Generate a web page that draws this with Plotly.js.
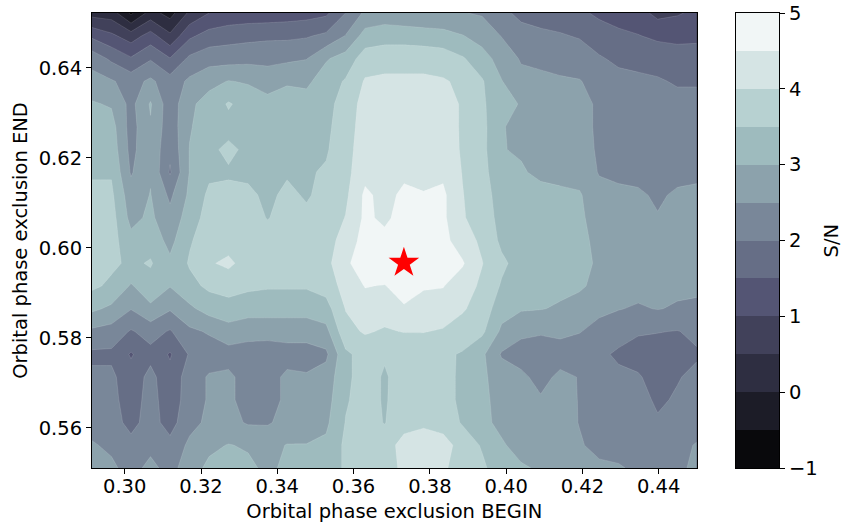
<!DOCTYPE html>
<html>
<head>
<meta charset="utf-8">
<script src="https://cdn.plot.ly/plotly-3.0.1.min.js"></script>
<style>html,body{margin:0;padding:0;background:#fff;}#chart{width:844px;height:528px;}</style>
</head>
<body>
<div id="chart"></div>
<script>
// Orbital phase exclusion BEGIN (x grid) and END (y grid)
const phaseBegin = [0.29142,0.29653,0.30165,0.30676,0.31188,0.31699,0.32211,0.32722,0.33234,0.33745,0.34257,0.34768,0.35279,0.35791,0.36302,0.36814,0.37325,0.37837,0.38348,0.38860,0.39371,0.39882,0.40394,0.40905,0.41417,0.41928,0.42440,0.42951,0.43463,0.43974,0.44486,0.44997];
const phaseEndTopDown = [0.65222,0.64716,0.64211,0.63705,0.63200,0.62694,0.62189,0.61683,0.61178,0.60672,0.60166,0.59661,0.59155,0.58650,0.58144,0.57639,0.57133,0.56628,0.56122,0.55617,0.55111];
// S/N values, rows from top (largest END) to bottom
const snTopDown = [
[0.3,0.25,-0.6,0.2,-0.2,0.6,1.0,1.15,1.2,1.2,1.25,1.3,1.4,2.0,2.6,2.7,2.6,2.55,2.52,2.52,2.45,2.1,1.9,1.8,1.7,1.6,1.4,1.3,1.2,0.85,0.95,1.1],
[1.4,1.1,0.75,1.2,0.6,1.4,1.7,1.8,1.85,1.9,1.9,1.95,2.1,2.52,3.2,3.3,3.3,3.25,3.2,3.02,2.8,2.48,2.15,2.1,2.05,1.95,1.75,1.6,1.52,1.4,1.35,1.4],
[2.3,1.9,1.55,1.95,1.52,2.1,2.3,2.3,2.35,2.35,2.4,2.48,2.95,3.2,3.75,3.8,3.8,3.8,3.75,3.55,3.2,2.8,2.45,2.4,2.35,2.3,2.05,1.9,1.85,1.8,1.75,1.7],
[2.7,2.55,2.3,2.6,2.2,2.6,2.85,3.02,2.95,2.8,2.95,2.9,3.25,3.55,4.05,4.1,4.1,4.1,4.05,3.9,3.55,3.02,2.65,2.6,2.55,2.52,2.35,2.15,2.1,2.05,1.95,1.95],
[3.05,2.95,2.35,3.05,2.2,2.9,3.2,3.55,3.3,3.15,3.2,3.2,3.35,3.7,4.2,4.2,4.2,4.2,4.2,3.95,3.6,3.1,2.98,2.7,2.65,2.6,2.45,2.3,2.25,2.2,2.15,2.15],
[3.2,3.2,2.3,2.95,2.2,2.95,3.3,3.35,3.3,3.3,3.3,3.3,3.4,3.75,4.25,4.2,4.25,4.25,4.2,3.95,3.65,3.05,2.8,2.75,2.7,2.6,2.45,2.35,2.3,2.25,2.2,2.2],
[3.25,3.3,2.35,2.9,2.1,3.02,3.4,3.6,3.4,3.35,3.4,3.4,3.45,3.8,4.3,4.25,4.3,4.3,4.25,3.95,3.65,3.02,2.95,2.8,2.75,2.65,2.45,2.35,2.3,2.3,2.3,2.3],
[3.45,3.45,2.45,2.95,1.95,3.02,3.4,3.45,3.4,3.45,3.45,3.45,3.55,3.85,4.35,4.3,4.4,4.4,4.4,3.98,3.7,3.1,3.05,2.9,2.85,2.8,2.47,2.45,2.4,2.4,2.4,2.45],
[3.6,3.6,2.7,3.02,2.4,3.1,3.6,3.6,3.6,3.4,3.6,3.45,3.65,3.9,4.6,4.35,4.6,4.52,4.6,4.02,3.7,3.3,3.2,3.15,3.1,3.05,2.65,2.55,2.55,2.45,2.55,2.55],
[3.7,3.7,2.85,3.1,2.65,3.25,3.7,3.7,3.7,3.48,3.65,3.6,3.7,4.02,4.6,4.4,4.7,4.7,4.6,4.05,3.75,3.35,3.25,3.2,3.15,3.1,2.75,2.65,2.6,2.52,2.6,2.6],
[3.7,3.7,3.15,3.3,2.85,3.45,3.75,3.8,3.75,3.7,3.7,3.7,3.8,4.2,4.7,4.65,4.8,4.75,4.65,4.25,3.9,3.4,3.25,3.2,3.2,3.1,2.9,2.75,2.7,2.65,2.6,2.6],
[3.7,3.6,3.4,3.55,3.1,3.55,3.95,4.1,3.8,3.8,3.75,3.75,3.85,4.4,4.8,4.85,4.95,4.8,4.7,4.55,4.02,3.6,3.3,3.2,3.2,3.1,2.95,2.8,2.75,2.7,2.65,2.6],
[3.6,3.4,2.95,3.3,3.02,3.35,3.6,3.7,3.6,3.55,3.55,3.55,3.7,4.2,4.52,4.48,4.7,4.55,4.52,4.25,3.9,3.45,3.2,3.15,3.1,3.05,2.9,2.7,2.65,2.6,2.6,2.55],
[3.1,2.9,2.52,2.9,2.55,2.9,3.2,3.3,3.2,3.2,3.2,3.2,3.3,4.02,4.3,4.2,4.45,4.3,4.3,4.05,3.8,3.2,3.05,3.02,2.95,2.85,2.6,2.52,2.45,2.52,2.45,2.45],
[2.4,2.3,1.95,2.2,1.95,2.4,2.55,2.8,2.7,2.7,2.7,2.7,2.85,3.85,4.05,3.95,4.02,4.02,3.95,3.8,3.6,2.9,2.6,2.55,2.6,2.52,2.35,2.2,2.05,2.02,1.98,2.1],
[1.9,1.9,1.45,1.85,1.45,2.05,2.25,2.3,2.25,2.2,2.3,2.3,2.4,3.4,3.7,3.55,3.6,3.65,3.6,3.45,3.1,2.45,2.3,2.25,2.3,2.25,2.1,1.92,1.8,1.75,1.85,1.95],
[2.1,2.1,1.7,2.15,1.65,2.25,2.55,2.6,2.3,2.3,2.6,2.55,2.7,3.4,3.7,3.45,3.7,3.8,3.75,3.35,3.1,2.75,2.6,2.35,2.6,2.48,2.2,2.1,2.05,1.8,1.97,2.1],
[2.2,2.15,1.75,2.2,1.7,2.25,2.55,2.6,2.3,2.3,2.6,2.6,2.8,3.45,3.7,3.45,3.75,3.8,3.75,3.35,3.1,2.85,2.7,2.55,2.65,2.48,2.25,2.1,2.15,1.93,2.05,2.15],
[2.3,2.2,1.85,2.2,1.8,2.35,2.6,2.65,2.45,2.45,2.65,2.7,2.9,3.52,3.7,3.48,3.8,3.9,3.8,3.45,3.1,2.9,2.75,2.7,2.7,2.48,2.3,2.2,2.2,2.05,2.1,2.2],
[2.55,2.4,2.15,2.35,2.15,2.6,2.9,3.02,2.95,2.85,3.02,3.02,3.1,3.6,3.8,3.75,4.2,4.3,4.2,3.8,3.45,3.05,2.85,2.75,2.7,2.55,2.35,2.3,2.3,2.25,2.3,2.55],
[2.7,2.6,2.3,2.65,2.3,2.8,3.1,3.2,3.1,2.9,3.1,3.2,3.3,3.55,3.8,3.8,4.1,4.2,4.1,3.7,3.6,3.2,3.05,2.95,2.8,2.7,2.6,2.55,2.4,2.3,2.4,2.6]
];
// best point (red star)
const bestBegin = [0.3732];
const bestEnd = [0.5967];
// contour levels and matplotlib "bone" band colours
const levels = [-1,-0.5,0,0.5,1,1.5,2,2.5,3,3.5,4,4.5,5];
const bandColors = ['rgb(9,9,12)','rgb(28,28,39)','rgb(46,46,65)','rgb(65,65,90)','rgb(84,85,116)','rgb(102,110,134)','rgb(121,135,153)','rgb(140,162,172)','rgb(158,187,190)','rgb(183,209,209)','rgb(213,228,228)','rgb(241,246,246)'];
const xTicks = [0.30,0.32,0.34,0.36,0.38,0.40,0.42,0.44];
const yTicks = [0.56,0.58,0.60,0.62,0.64];
const cbTicks = [-1,0,1,2,3,4,5];

const phaseEnd = phaseEndTopDown.slice().reverse();
const sn = snTopDown.slice().reverse();
const nb = bandColors.length;
const scale = bandColors.map((c, i) => [i / (nb - 1), c]);
const step = levels[1] - levels[0];
const bandCenters = levels.slice(0, -1).map((v, i) => (v + levels[i + 1]) / 2);

const FONT = 'DejaVu Sans, Verdana, sans-serif';
const FS = 19.5;

const traces = [
  {
    type: 'contour', x: phaseBegin, y: phaseEnd, z: sn,
    autocontour: false,
    contours: {start: levels[1], end: levels[levels.length - 2], size: step, coloring: 'fill', showlines: true},
    line: {width: 0.6, color: 'rgba(255,255,255,0.22)', smoothing: 0},
    colorscale: scale, showscale: false, hoverinfo: 'skip'
  },
  {
    type: 'scatter', mode: 'markers', x: bestBegin, y: bestEnd,
    marker: {symbol: 'star', size: 23, color: '#ff0000', line: {width: 0}},
    hoverinfo: 'skip', showlegend: false
  },
  {
    type: 'heatmap', xaxis: 'x2', yaxis: 'y2',
    x: [0.5], y: bandCenters, z: bandCenters.map((v, i) => [i]),
    zmin: 0, zmax: nb - 1, colorscale: scale, showscale: false, hoverinfo: 'skip'
  }
];

const axisCommon = {
  showgrid: false, zeroline: false, showline: true, mirror: true,
  linecolor: '#000', linewidth: 1, ticks: 'outside', ticklen: 5, tickwidth: 1, tickcolor: '#000',
  tickfont: {family: FONT, size: FS, color: '#000'}
};

const layout = {
  width: 844, height: 528,
  margin: {l: 92, r: 65, t: 13, b: 60, pad: 0},
  paper_bgcolor: '#fff', plot_bgcolor: '#fff',
  font: {family: FONT, size: FS, color: '#000'},
  showlegend: false,
  xaxis: Object.assign({}, axisCommon, {
    domain: [0, 0.8802], range: [phaseBegin[0], phaseBegin[phaseBegin.length - 1]],
    tickvals: xTicks, tickformat: '.2f', ticklabelstandoff: -4,
    title: {text: 'Orbital phase exclusion BEGIN', font: {family: FONT, size: FS}, standoff: 6}
  }),
  yaxis: Object.assign({}, axisCommon, {
    range: [phaseEnd[0], phaseEnd[phaseEnd.length - 1]],
    tickvals: yTicks, tickformat: '.2f',
    title: {text: 'Orbital phase exclusion END', font: {family: FONT, size: FS}, standoff: 5}
  }),
  xaxis2: {domain: [0.9374, 1], range: [0, 1], anchor: 'y2', showgrid: false, zeroline: false,
    showline: true, mirror: true, linecolor: '#000', linewidth: 1, showticklabels: false, ticks: '', fixedrange: true},
  yaxis2: Object.assign({}, axisCommon, {
    domain: [0, 1], range: [levels[0], levels[levels.length - 1]], anchor: 'x2', side: 'right',
    tickvals: cbTicks, mirror: true
  }),
  annotations: [{
    text: 'S/N', xref: 'paper', yref: 'paper', x: 1.077, y: 0.5, xanchor: 'center', yanchor: 'middle',
    textangle: -90, showarrow: false, font: {family: FONT, size: FS, color: '#000'}
  }]
};

Plotly.newPlot('chart', traces, layout, {displayModeBar: false, staticPlot: true});
</script>
</body>
</html>
